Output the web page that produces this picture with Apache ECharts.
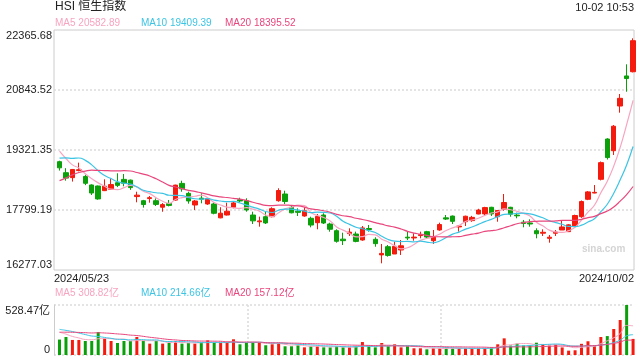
<!DOCTYPE html>
<html><head><meta charset="utf-8">
<script src="https://cdn.jsdelivr.net/npm/echarts/dist/echarts.min.js"></script>
<style>html,body{margin:0;padding:0;background:#fff}#c{width:640px;height:360px}</style>
</head><body><div id="c"></div>
<script>
const dates = ['2024/05/23','2024/05/24','2024/05/27','2024/05/28','2024/05/29','2024/05/30','2024/05/31',
'2024/06/03','2024/06/04','2024/06/05','2024/06/06','2024/06/07','2024/06/11','2024/06/12','2024/06/13','2024/06/14','2024/06/17','2024/06/18','2024/06/19','2024/06/20','2024/06/21','2024/06/24','2024/06/25','2024/06/26','2024/06/27','2024/06/28',
'2024/07/02','2024/07/03','2024/07/04','2024/07/05','2024/07/08','2024/07/09','2024/07/10','2024/07/11','2024/07/12','2024/07/15','2024/07/16','2024/07/17','2024/07/18','2024/07/19','2024/07/22','2024/07/23','2024/07/24','2024/07/25','2024/07/26','2024/07/29','2024/07/30','2024/07/31',
'2024/08/01','2024/08/02','2024/08/05','2024/08/06','2024/08/07','2024/08/08','2024/08/09','2024/08/12','2024/08/13','2024/08/14','2024/08/15','2024/08/16','2024/08/19','2024/08/20','2024/08/21','2024/08/22','2024/08/23','2024/08/26','2024/08/27','2024/08/28','2024/08/29','2024/08/30',
'2024/09/02','2024/09/03','2024/09/04','2024/09/05','2024/09/09','2024/09/10','2024/09/11','2024/09/12','2024/09/13','2024/09/16','2024/09/17','2024/09/19','2024/09/20','2024/09/23','2024/09/24','2024/09/25','2024/09/26','2024/09/27','2024/09/30',
'2024/10/02'];
const opens = [19025,18745,18620,18800,18650,18434,18408,
18290,18324,18491,18576,18557,18140,18035,18090,18035,17870,17966,18050,18474,18221,17926,18100,17952,17952,17600,
17672,17868,18060,18035,17672,17500,17629,17629,18035,18205,17868,17770,17647,17589,17477,17672,17444,17274,17060,17200,17190,17038,
17330,17056,16660,16868,16683,16785,17110,17090,17150,17249,17020,17292,17600,17645,17370,17502,17530,17698,17700,17868,17629,17817,
17868,17670,17490,17470,17274,17210,17080,17210,17292,17250,17393,17629,18071,18230,18578,19600,19303,20437,21200,
21307];
const highs = [19050,18860,18840,19000,18690,18450,18420,
18577,18600,18730,18712,18570,18263,18055,18155,18095,17975,18053,18440,18542,18263,18053,18223,18110,17990,17870,
17985,18010,18110,18096,17756,17630,17756,17868,18350,18289,17900,17842,17868,17629,17698,17716,17477,17310,17223,17335,17250,17393,
17419,17107,16937,16911,16995,17038,17249,17208,17249,17270,17292,17477,17672,17660,17419,17655,17650,17830,17880,17880,17800,18205,
17880,17731,17546,17563,17335,17310,17165,17292,17528,17440,17680,18040,18280,18433,19030,19620,19955,20742,21495,
22155];
const lows = [18800,18543,18520,18780,18430,18180,18060,
18280,18310,18380,18400,18310,17995,17860,17985,17900,17755,17890,18030,18263,17960,17800,17969,17930,17690,17590,
17660,17842,17990,17756,17444,17376,17444,17614,18010,17951,17715,17647,17629,17360,17310,17444,17249,16970,16911,17140,16980,17020,
17249,16868,16447,16615,16683,16658,17038,17020,17081,17090,16937,17274,17545,17444,17249,17393,17500,17690,17650,17647,17502,17782,
17629,17589,17360,17376,17081,17140,16970,17140,17292,17240,17390,17600,18050,18223,18550,19080,19195,20268,20800,
21290];
const closes = [18868.71,18608.94,18827.35,18821.16,18477.01,18230.19,18079.61,
18403.04,18444.11,18424.18,18475.91,18366.95,18176.34,17937.84,18112.63,17941.78,17936.12,17915.55,18430.39,18335.32,18028.52,18027.71,18072.90,18089.93,17716.47,17718.61,
17769.14,17978.57,18028.28,17799.61,17524.06,17523.23,17471.67,17832.33,18293.38,18015.94,17727.98,17739.41,17778.41,17417.68,17635.88,17469.36,17311.05,17005.23,17021.31,17238.26,17002.91,17344.60,
17304.96,16945.51,16698.36,16647.34,16877.86,16891.83,17090.23,17111.59,17174.06,17113.36,17109.14,17430.16,17569.57,17511.46,17391.01,17641.02,17612.10,17798.73,17860,17700,17786.32,17989.07,
17691.97,17651.15,17457.34,17444.30,17196.96,17234.09,17108.71,17240.39,17369.09,17422.12,17660.02,18013.16,18258.57,18247.11,19000.64,19129.10,19924.58,20632.30,21133.68,
22094.79];
const volumes = [163,190,159,159,148,148,243,
173,148,127,148,148,190,148,120,148,120,127,148,120,127,120,134,155,130,127,
127,166,113,127,137,127,103,113,127,92,92,103,81,92,92,81,81,92,81,81,92,137,
92,81,127,92,113,81,92,71,71,60,71,71,71,71,71,71,71,71,71,81,113,176,
100,120,100,100,130,110,100,110,80,46,50,118,145,100,190,200,275,370,528.47,
170];
// closes / volumes of the 19 sessions before the first visible day (feed the moving averages)
const priorCloses = [17201.27,17284.54,17651.15,17746.91,17763.03,18207.13,18475.92,18578.30,18479.37,18313.86,
18537.81,18963.68,18738.77,19073.71,19376.53,19553.61,19636.22,19220.62,19195.60];
const priorVolumes = [170,180,190,200,210,200,220,230,240,250,300,280,320,310,300,290,280,240,230];
const yTickLabels = ['16277.03','17799.19','19321.35','20843.52','22365.68'];
const volTickLabels = ['0','528.47亿'];
const maLegend = ['MA5 20582.89','MA10 19409.39','MA20 18395.52'];
const volLegend = ['MA5 308.82亿','MA10 214.66亿','MA20 157.12亿'];
const titleText = 'HSI 恒生指数';
const timeText = '10-02 10:53';
const watermark = 'sina.com';

const RED = '#f41a0d', GREEN = '#0aa00a';
const MA_COLORS = ['#f7a4c0', '#3cc4e4', '#e9467c'];
const FONT = '"Liberation Sans", Arial, "Noto Sans CJK SC", sans-serif';

function movingAvg(vals, prior, n) {
  const all = prior.concat(vals);
  return vals.map((_, i) => {
    let s = 0;
    for (let k = 0; k < n; k++) s += all[prior.length + i - k];
    return +(s / n).toFixed(2);
  });
}
const yMin = +yTickLabels[0], yMax = +yTickLabels[yTickLabels.length - 1];
const yInt = (yMax - yMin) / (yTickLabels.length - 1);
const vMax = parseFloat(volTickLabels[1]);

const candleData = dates.map((d, i) => [opens[i], closes[i], lows[i], highs[i]]);
const volData = volumes.map((v, i) => ({ value: v, itemStyle: { color: closes[i] >= opens[i] ? RED : GREEN } }));
const periods = [5, 10, 20];
const maSeries = periods.map((n, k) => ({
  type: 'line', xAxisIndex: 1, yAxisIndex: 1, data: movingAvg(closes, priorCloses, n),
  symbol: 'none', smooth: true, z: 5, silent: true,
  lineStyle: { color: MA_COLORS[k], width: 1.2 }
}));
const volMaSeries = periods.map((n, k) => ({
  type: 'line', xAxisIndex: 3, yAxisIndex: 3, data: movingAvg(volumes, priorVolumes, n),
  symbol: 'none', smooth: true, z: 5, silent: true,
  lineStyle: { color: MA_COLORS[k], width: 1 }
}));
const dotted = { show: true, lineStyle: { color: '#dcdcdc', width: 1.5, type: [2, 2] } };

const legendTitles = [];
const lefts = [55, 141, 225];
maLegend.forEach((t, k) => legendTitles.push({ text: t, left: lefts[k], top: 18, padding: 0,
  textStyle: { fontSize: 10, fontWeight: 'normal', color: MA_COLORS[k], fontFamily: FONT } }));
volLegend.forEach((t, k) => legendTitles.push({ text: t, left: lefts[k], top: 288, padding: 0,
  textStyle: { fontSize: 10, fontWeight: 'normal', color: MA_COLORS[k], fontFamily: FONT } }));

const chart = echarts.init(document.getElementById('c'), null, { renderer: 'canvas' });
chart.setOption({
  animation: false,
  backgroundColor: '#fff',
  textStyle: { fontFamily: FONT },
  title: [
    { text: titleText, left: 55, top: 1, padding: 0, textStyle: { fontSize: 12, fontWeight: 'normal', color: '#222', fontFamily: FONT } },
    { text: timeText, right: 6, top: 2, padding: 0, textStyle: { fontSize: 11, fontWeight: 'normal', color: '#222', fontFamily: FONT } },
    { text: watermark, left: 582, top: 244, padding: 0, textStyle: { fontSize: 10, fontWeight: 'bold', color: '#d4d4d4', fontFamily: FONT } }
  ].concat(legendTitles),
  grid: [
    { left: 54, top: 30, width: 580, height: 240, show: true, borderColor: '#cccccc', borderWidth: 1, backgroundColor: 'transparent' },
    { left: 56.3, top: 30, width: 580, height: 240 },
    { left: 54, top: 305, width: 580, height: 50 },
    { left: 56.3, top: 305, width: 580, height: 50 }
  ],
  xAxis: [
    { gridIndex: 0, type: 'value', min: 0, max: 1, interval: 1,
      axisLine: { show: false }, axisTick: { show: false }, splitLine: { show: false },
      axisLabel: { show: true, margin: 3, fontSize: 11, color: '#222', fontFamily: FONT,
        alignMinLabel: 'left', alignMaxLabel: 'right',
        formatter: (v, i) => [dates[0], dates[dates.length - 1]][i] } },
    { gridIndex: 1, type: 'category', data: dates, boundaryGap: true, show: false },
    { gridIndex: 2, type: 'value', min: 0, max: 3, interval: 1,
      axisLine: { show: false }, axisTick: { show: false }, axisLabel: { show: false },
      splitLine: Object.assign({ showMinLine: false, showMaxLine: false }, dotted) },
    { gridIndex: 3, type: 'category', data: dates, boundaryGap: true, show: false }
  ],
  yAxis: [
    { gridIndex: 0, type: 'value', min: yMin, max: yMax, interval: yInt,
      axisLine: { show: false }, axisTick: { show: false },
      splitLine: Object.assign({ showMinLine: false, showMaxLine: false }, dotted),
      axisLabel: { margin: 2, fontSize: 11, color: '#222', fontFamily: FONT,
        verticalAlignMinLabel: 'bottom', verticalAlignMaxLabel: 'top',
        formatter: (v, i) => yTickLabels[i] } },
    { gridIndex: 1, type: 'value', min: yMin, max: yMax, show: false },
    { gridIndex: 2, type: 'value', min: 0, max: vMax, interval: vMax,
      axisLine: { show: true, lineStyle: { color: '#cccccc' } }, axisTick: { show: false },
      splitLine: dotted,
      axisLabel: { margin: 4, fontSize: 11, color: '#222', fontFamily: FONT,
        verticalAlignMinLabel: 'bottom', verticalAlignMaxLabel: 'top',
        formatter: (v, i) => volTickLabels[i] } },
    { gridIndex: 3, type: 'value', min: 0, max: vMax, show: false }
  ],
  series: [
    { type: 'candlestick', xAxisIndex: 1, yAxisIndex: 1, data: candleData, barWidth: 5, z: 3,
      itemStyle: { color: RED, color0: GREEN, borderColor: RED, borderColor0: GREEN, borderWidth: 1 } },
    { type: 'bar', xAxisIndex: 3, yAxisIndex: 3, data: volData, barWidth: 3, z: 3 }
  ].concat(maSeries, volMaSeries)
});
</script></body></html>
